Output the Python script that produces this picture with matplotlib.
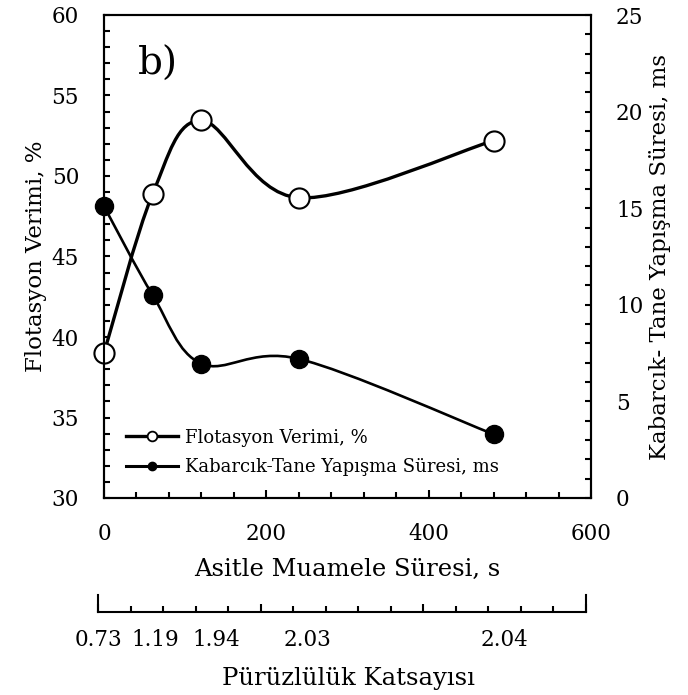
import matplotlib
matplotlib.use("Agg")
import matplotlib.pyplot as plt
import matplotlib.transforms as mtransforms
from matplotlib.path import Path
from matplotlib.patches import PathPatch
from matplotlib.lines import Line2D
from matplotlib.ticker import MultipleLocator
import numpy as np

plt.rcParams['font.family'] = ['DejaVu Serif']

# ---- data ----
time_s = [0, 60, 120, 240, 480]
flot_verimi = [39.0, 48.9, 53.45, 48.65, 52.2]
yapisma_suresi = [15.1, 10.5, 6.95, 7.2, 3.3]
roughness_labels = ["0.73", "1.19", "1.94", "2.03", "2.04"]
roughness_label_pos = [0, 71, 145, 257, 500]

W, H = 688, 695
fig = plt.figure(figsize=(W / 100, H / 100), dpi=100)

def fx(px):
    return px / W

def fy(py):
    return 1 - py / H

ax = fig.add_axes([fx(104), fy(498), fx(591) - fx(104), fy(15) - fy(498)])
axr = ax.twinx()

def smooth_path(xs, ys):
    pts = np.column_stack([xs, ys]).astype(float)
    n = len(pts)
    verts = [pts[0]]
    codes = [Path.MOVETO]
    for i in range(n - 1):
        p0 = pts[i - 1] if i > 0 else pts[i]
        p1 = pts[i]
        p2 = pts[i + 1]
        p3 = pts[i + 2] if i + 2 < n else pts[i + 1]
        c1 = p1 + (p2 - p0) / 6.0
        c2 = p2 - (p3 - p1) / 6.0
        verts += [c1, c2, p2]
        codes += [Path.CURVE4] * 3
    return Path(verts, codes)

# flotation yield (left axis)
ax.add_patch(PathPatch(smooth_path(time_s, flot_verimi), fill=False,
                       lw=2.4, edgecolor='black', capstyle='round', zorder=3))
ax.plot(time_s, flot_verimi, linestyle='none', marker='o', ms=14.5,
        mfc='white', mec='black', mew=1.5, zorder=5, clip_on=False)

# attachment time (right axis)
axr.add_patch(PathPatch(smooth_path(time_s, yapisma_suresi), fill=False,
                        lw=1.9, edgecolor='black', capstyle='round', zorder=3))
axr.plot(time_s, yapisma_suresi, linestyle='none', marker='o', ms=13,
         mfc='black', mec='black', mew=1, zorder=5, clip_on=False)

ax.set_xlim(0, 600)
ax.set_ylim(30, 60)
axr.set_ylim(0, 25)

fs = 15.5
ax.xaxis.set_major_locator(MultipleLocator(200))
ax.xaxis.set_minor_locator(MultipleLocator(40))
ax.yaxis.set_major_locator(MultipleLocator(5))
ax.yaxis.set_minor_locator(MultipleLocator(1))
axr.yaxis.set_major_locator(MultipleLocator(5))
axr.yaxis.set_minor_locator(MultipleLocator(1))

ax.tick_params(axis='both', which='both', direction='in', width=1.5,
               labelsize=fs, pad=18, top=False, right=False)
ax.tick_params(axis='y', which='both', length=4.5)
ax.tick_params(axis='x', which='major', length=5.5)
ax.tick_params(axis='x', which='minor', length=4)
axr.tick_params(axis='y', which='both', direction='in', width=1.5,
                labelsize=fs, pad=18, length=4)

for a in (ax, axr):
    for s in a.spines.values():
        s.set_linewidth(1.5)

ax.set_ylabel("Flotasyon Verimi, %", fontsize=16.5, labelpad=3)
axr.set_ylabel("Kabarcık- Tane Yapışma Süresi, ms", fontsize=16.5, labelpad=4)
ax.set_xlabel("Asitle Muamele Süresi, s", fontsize=17.5, labelpad=9)

fig.text(fx(158), fy(64), "b)", fontsize=28, ha='center', va='center')

handles = [
    Line2D([], [], color='black', lw=2.4, marker='o', ms=7, mfc='white',
           mec='black', mew=1.3),
    Line2D([], [], color='black', lw=2.2, marker='o', ms=6, mfc='black',
           mec='black'),
]
leg = fig.legend(handles, ["Flotasyon Verimi, %", "Kabarcık-Tane Yapışma Süresi, ms"],
                 loc='center left', bbox_to_anchor=(fx(126), fy(452.5)),
                 frameon=False, fontsize=13, handlelength=2.9,
                 handletextpad=0.35, labelspacing=0.65, borderpad=0,
                 borderaxespad=0)

# secondary roughness axis
ax2 = fig.add_axes([fx(98), fy(612), fx(586) - fx(98), fy(595) - fy(612)])
ax2.set_xlim(0, 600)
ax2.set_ylim(0, 1)
ax2.patch.set_alpha(0)
ax2.spines['top'].set_visible(False)
for s in ax2.spines.values():
    s.set_linewidth(1.5)
ax2.set_yticks([])
ax2.xaxis.set_major_locator(MultipleLocator(200))
ax2.xaxis.set_minor_locator(MultipleLocator(40))
ax2.tick_params(axis='x', which='both', direction='in', width=1.5,
                labelbottom=False)
ax2.tick_params(axis='x', which='major', length=6)
ax2.tick_params(axis='x', which='minor', length=4)
blend = mtransforms.blended_transform_factory(ax2.transData, fig.transFigure)
for lab, pos in zip(roughness_labels, roughness_label_pos):
    ax2.text(pos, fy(640), lab, fontsize=fs, ha='center', va='center',
             transform=blend)
fig.text(fx(348), fy(678), "Pürüzlülük Katsayısı", fontsize=17.5,
         ha='center', va='center')

fig.savefig("out.png", dpi=100)
